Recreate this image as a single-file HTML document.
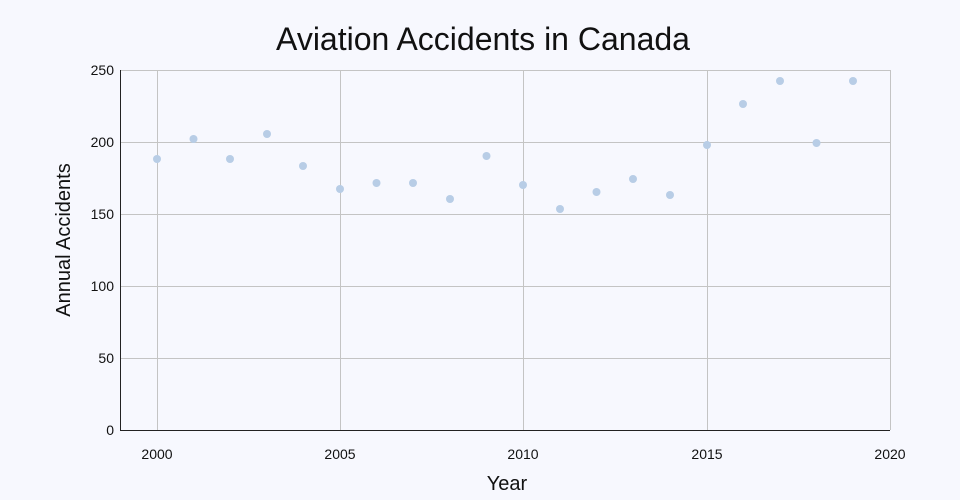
<!DOCTYPE html>
<html><head><meta charset="utf-8"><style>
html,body{margin:0;padding:0;background:#f7f8fe;}
svg{display:block;font-family:"Liberation Sans","DejaVu Sans",sans-serif;}
</style></head><body>
<svg width="960" height="500" viewBox="0 0 960 500" xmlns="http://www.w3.org/2000/svg">
<rect width="960" height="500" fill="#f7f8fe"/>
<text x="483" y="50" text-anchor="middle" font-size="32" fill="#111">Aviation Accidents in Canada</text>
<g stroke="#c4c4c4" stroke-width="1">
<line x1="120" y1="70.5" x2="890" y2="70.5"/>
<line x1="120" y1="142.5" x2="890" y2="142.5"/>
<line x1="120" y1="214.5" x2="890" y2="214.5"/>
<line x1="120" y1="286.5" x2="890" y2="286.5"/>
<line x1="120" y1="358.5" x2="890" y2="358.5"/>
<line x1="157.5" y1="70" x2="157.5" y2="430"/>
<line x1="340.5" y1="70" x2="340.5" y2="430"/>
<line x1="523.5" y1="70" x2="523.5" y2="430"/>
<line x1="707.5" y1="70" x2="707.5" y2="430"/>
<line x1="890.5" y1="70" x2="890.5" y2="430"/>
</g>
<line x1="120.5" y1="70" x2="120.5" y2="430" stroke="#222"/>
<line x1="120" y1="430.5" x2="890" y2="430.5" stroke="#222"/>
<g font-size="14" fill="#111" text-anchor="end">
<text x="114" y="75">250</text><text x="114" y="147">200</text><text x="114" y="219">150</text>
<text x="114" y="291">100</text><text x="114" y="363">50</text><text x="114" y="435">0</text>
</g>
<g font-size="14" fill="#111" text-anchor="middle">
<text x="157" y="459">2000</text><text x="340" y="459">2005</text><text x="523" y="459">2010</text>
<text x="707" y="459">2015</text><text x="890" y="459">2020</text>
</g>
<text x="507" y="490" text-anchor="middle" font-size="20" fill="#111">Year</text>
<text transform="translate(70,240) rotate(-90)" text-anchor="middle" font-size="20" fill="#111">Annual Accidents</text>
<g fill="#b8cde6">
<circle cx="157" cy="159" r="4"/><circle cx="193.5" cy="139" r="4"/><circle cx="230" cy="159" r="4"/>
<circle cx="267" cy="134" r="4"/><circle cx="303" cy="166" r="4"/><circle cx="340" cy="189" r="4"/>
<circle cx="376.5" cy="183" r="4"/><circle cx="413" cy="183" r="4"/><circle cx="450" cy="199" r="4"/>
<circle cx="486.5" cy="156" r="4"/><circle cx="523" cy="185" r="4"/><circle cx="560" cy="209" r="4"/>
<circle cx="596.5" cy="192" r="4"/><circle cx="633" cy="179" r="4"/><circle cx="670" cy="195" r="4"/>
<circle cx="707" cy="145" r="4"/><circle cx="743" cy="104" r="4"/><circle cx="780" cy="81" r="4"/>
<circle cx="816.5" cy="143" r="4"/><circle cx="853" cy="81" r="4"/>
</g>
</svg>
</body></html>
